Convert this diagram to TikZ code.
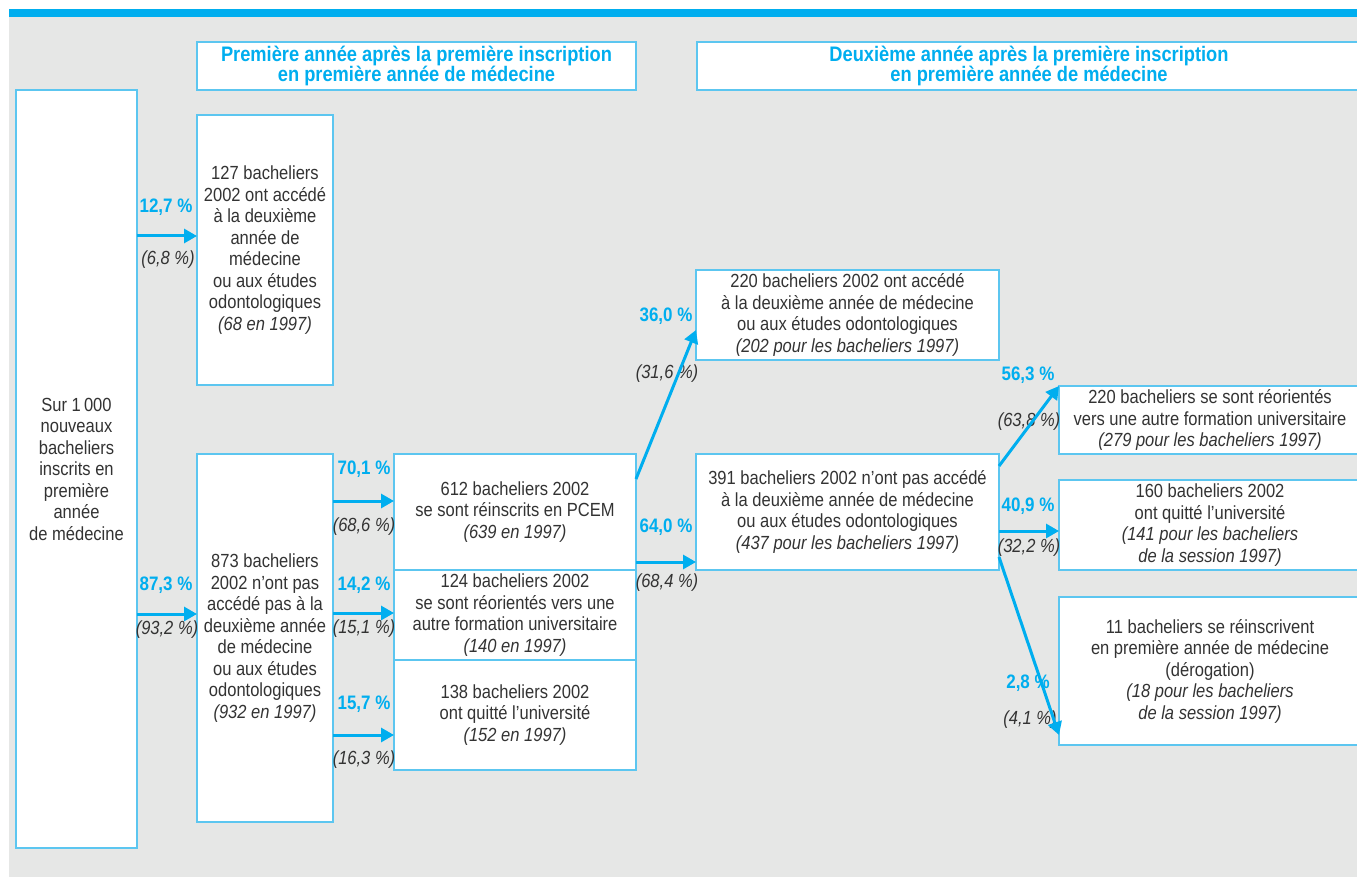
\documentclass[tikz,border=0pt]{standalone}
\usepackage{fontspec}
\setmainfont{Liberation Sans}[FakeStretch=0.87]
\usetikzlibrary{positioning,calc,arrows.meta}

\definecolor{flowblue}{HTML}{00AEEF}
\definecolor{boxblue}{HTML}{5CC6F0}
\definecolor{bggrey}{HTML}{E6E7E6}
\definecolor{txtgrey}{HTML}{333333}

\tikzset{
  box/.style={draw=boxblue, fill=white, line width=1.4pt, outer sep=0pt, inner sep=0pt,
    align=center, text=txtgrey, font=\fontsize{19}{21.5}\selectfont},
  headbox/.style={box, text=flowblue, font=\bfseries\fontsize{21}{20}\selectfont},
  flow/.style={draw=flowblue, line width=3pt, -{Triangle[length=13pt,width=14pt]}},
  pct/.style={text=flowblue, inner sep=0pt, font=\bfseries\fontsize{19.5}{20}\selectfont},
  old/.style={text=txtgrey, inner sep=0pt, font=\itshape\fontsize{19}{20}\selectfont},
}

\begin{document}
\begin{tikzpicture}[x=1pt,y=-1pt]
  \useasboundingbox (0,0) rectangle (1357,877);
  \fill[bggrey] (9,17) rectangle (1357,877);
  \fill[flowblue] (9,9) rectangle (1357,17);

  % en-tetes
  \node[headbox, minimum width=439pt, minimum height=48pt] (head1) at (416.5,66)
    {Première année après la première inscription\\en première année de médecine};
  \node[headbox, minimum width=664pt, minimum height=48pt] (head2) at (1029,66)
    {Deuxième année après la première inscription\\en première année de médecine};

  % premiere annee
  \node[box, minimum width=121pt, minimum height=758pt] (total) at (76.5,469)
    {Sur 1\,000\\nouveaux\\bacheliers\\inscrits en\\première\\année\\de médecine};
  \node[box, minimum width=136pt, minimum height=270pt] (reussite) at (265,250)
    {127 bacheliers\\2002 ont accédé\\à la deuxième\\année de\\médecine\\ou aux études\\odontologiques\\{\itshape (68 en 1997)}};
  \node[box, minimum width=136pt, minimum height=368pt] (echec) at (265,638)
    {873 bacheliers\\2002 n’ont pas\\accédé pas à la\\deuxième année\\de médecine\\ou aux études\\odontologiques\\{\itshape (932 en 1997)}};
  \node[box, minimum width=242pt, minimum height=116pt] (pcem) at (515,512)
    {612 bacheliers 2002\\se sont réinscrits en PCEM\\{\itshape (639 en 1997)}};
  \node[box, minimum width=242pt, minimum height=90pt, below=0pt of pcem] (reo1)
    {124 bacheliers 2002\\se sont réorientés vers une\\autre formation universitaire\\{\itshape (140 en 1997)}};
  \node[box, minimum width=242pt, minimum height=110pt, below=0pt of reo1] (quit1)
    {138 bacheliers 2002\\ont quitté l’université\\{\itshape (152 en 1997)}};

  % deuxieme annee
  \node[box, minimum width=303pt, minimum height=90pt] (acces) at (847.5,315)
    {220 bacheliers 2002 ont accédé\\à la deuxième année de médecine\\ou aux études odontologiques\\{\itshape (202 pour les bacheliers 1997)}};
  \node[box, minimum width=303pt, minimum height=116pt] (nonacces) at (847.5,512)
    {391 bacheliers 2002 n’ont pas accédé\\à la deuxième année de médecine\\ou aux études odontologiques\\{\itshape (437 pour les bacheliers 1997)}};
  \node[box, minimum width=302pt, minimum height=68pt] (reo2) at (1210,420)
    {220 bacheliers se sont réorientés\\vers une autre formation universitaire\\{\itshape (279 pour les bacheliers 1997)}};
  \node[box, minimum width=302pt, minimum height=90pt] (quit2) at (1210,525)
    {160 bacheliers 2002\\ont quitté l’université\\{\itshape (141 pour les bacheliers}\\{\itshape de la session 1997)}};
  \node[box, minimum width=302pt, minimum height=148pt] (redouble) at (1210,671)
    {11 bacheliers se réinscrivent\\en première année de médecine\\(dérogation)\\{\itshape (18 pour les bacheliers}\\{\itshape de la session 1997)}};

  % pourcentages
  \node[pct] (p127) at (166,207) {12,7~\%};
  \node[old] (o127) at (168,260) {(6,8~\%)};
  \node[pct] (p873) at (166,585) {87,3~\%};
  \node[old] (o873) at (167,630) {(93,2~\%)};
  \node[pct] (p701) at (364,469) {70,1~\%};
  \node[old] (o701) at (364,527) {(68,6~\%)};
  \node[pct] (p142) at (364,585) {14,2~\%};
  \node[old] (o142) at (364,629) {(15,1~\%)};
  \node[pct] (p157) at (364,704) {15,7~\%};
  \node[old] (o157) at (364,760) {(16,3~\%)};
  \node[pct] (p360) at (666,316) {36,0~\%};
  \node[old] (o360) at (667,374) {(31,6~\%)};
  \node[pct] (p640) at (666,527) {64,0~\%};
  \node[old] (o640) at (667,583) {(68,4~\%)};
  \node[pct] (p563) at (1028,375) {56,3~\%};
  \node[old] (o563) at (1029,422) {(63,8~\%)};
  \node[pct] (p409) at (1028,506) {40,9~\%};
  \node[old] (o409) at (1029,548) {(32,2~\%)};
  \node[pct] (p28) at (1028,683) {2,8~\%};
  \node[old] (o28) at (1030,720) {(4,1~\%)};

  % fleches
  \coordinate (inB) at ([yshift=14pt]reussite.west);
  \coordinate (inC) at ([yshift=24pt]echec.west);
  \coordinate (inD1) at ([yshift=11pt]pcem.west);
  \coordinate (inD2) at ([yshift=2pt]reo1.west);
  \coordinate (inD3) at ([yshift=-20pt]quit1.west);
  \coordinate (outH) at ([yshift=-19pt]nonacces.east);

  \draw[flow] (inB -| total.east) -- (inB);
  \draw[flow] (inC -| total.east) -- (inC);
  \draw[flow] (inD1 -| echec.east) -- (inD1);
  \draw[flow] (inD2 -| echec.east) -- (inD2);
  \draw[flow] (inD3 -| echec.east) -- (inD3);
  \draw[flow] ([yshift=33pt]pcem.east) -- ([yshift=-15pt]acces.west);
  \draw[flow] ([yshift=-50pt]pcem.east) -- ([yshift=-50pt]nonacces.west);
  \draw[flow] ([yshift=46pt]nonacces.east) -- (reo2.north west);
  \draw[flow] (outH) -- (outH -| quit2.west);
  \draw[flow] ([yshift=-45pt]nonacces.east) -- ([yshift=10pt]redouble.south west);
\end{tikzpicture}
\end{document}
